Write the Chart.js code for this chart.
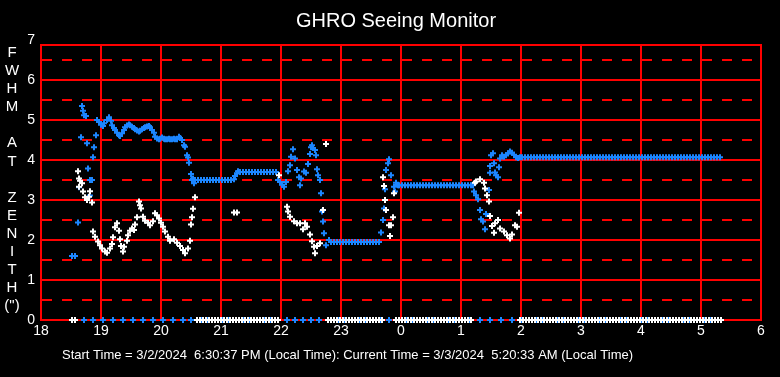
<!DOCTYPE html>
<html>
<head>
<meta charset="utf-8">
<script src="https://cdn.jsdelivr.net/npm/chart.js@4/dist/chart.umd.min.js"></script>
<style>
  html, body { margin: 0; padding: 0; background: #000; }
  canvas { display: block; }
</style>
</head>
<body>
<canvas id="seeing" width="780" height="377"></canvas>
<script>
// x values are minutes after 18:00 local time, y values are FWHM in arcsec
const hourLabels = ['18', '19', '20', '21', '22', '23', '0', '1', '2', '3', '4', '5', '6'];
const yTickValues = [0, 0.5, 1, 1.5, 2, 2.5, 3, 3.5, 4, 4.5, 5, 5.5, 6, 6.5, 7];
const axisLetters = ['F', 'W', 'H', 'M', '', 'A', 'T', '', 'Z', 'E', 'N', 'I', 'T', 'H', '(")'];
const chartTitle = 'GHRO Seeing Monitor';
const footerText = 'Start Time = 3/2/2024  6:30:37 PM (Local Time): Current Time = 3/3/2024  5:20:33 AM (Local Time)';

const whiteFwhm = [
  [31, 0], [34, 0],
  [37, 3.72], [38, 3.54], [38, 3.33], [39, 3.48], [41, 3.42], [42, 3.21], [44, 3.07], [46, 3.0],
  [48, 3.08], [49, 3.22], [51, 2.94], [52, 2.21], [54, 2.08], [57, 1.96], [59, 1.87], [61, 1.79],
  [64, 1.71], [66, 1.68], [69, 1.79], [71, 1.9], [72, 2.07], [74, 2.32], [76, 2.42], [78, 2.23],
  [79, 2.02], [80, 1.85], [82, 1.71], [83, 1.83], [86, 1.98], [87, 2.12], [89, 2.23], [91, 2.29],
  [93, 2.25], [94, 2.39], [96, 2.57], [98, 2.96], [99, 2.87], [100, 2.79], [102, 2.58], [104, 2.48],
  [107, 2.43], [109, 2.37], [112, 2.47], [114, 2.67], [116, 2.62], [118, 2.54], [120, 2.43], [122, 2.33],
  [124, 2.21], [127, 2.08], [129, 1.98], [133, 2.02], [136, 1.93], [139, 1.85], [142, 1.75], [144, 1.67],
  [147, 1.79], [149, 1.98], [150, 2.39], [151, 2.57], [152, 2.78], [154, 3.07],
  [156, 0], [159, 0], [162, 0], [165, 0], [168, 0], [171, 0], [174, 0], [177, 0], [180, 0], [183, 0],
  [186, 0], [189, 0], [192, 0], [195, 0], [198, 0], [201, 0], [204, 0], [207, 0], [210, 0], [213, 0],
  [216, 0], [219, 0], [222, 0], [225, 0], [228, 0], [231, 0], [234, 0], [237, 0],
  [193, 2.69], [196, 2.69], [238, 3.62],
  [246, 2.83], [247, 2.71], [249, 2.58], [253, 2.47], [256, 2.42], [259, 2.42], [262, 2.27], [264, 2.42],
  [266, 2.33], [269, 2.14], [271, 1.97], [273, 1.83], [274, 1.67], [276, 1.85], [279, 1.92], [282, 2.75],
  [285, 4.4],
  [287, 0], [290, 0], [293, 0], [296, 0], [299, 0], [302, 0], [305, 0], [308, 0], [311, 0], [314, 0],
  [317, 0], [320, 0], [323, 0], [326, 0], [329, 0], [332, 0], [335, 0], [338, 0], [341, 0],
  [342, 3.57], [343, 3.35], [344, 3.0], [345, 2.75], [348, 2.37], [349, 2.1], [350, 2.37], [352, 2.57],
  [353, 3.17],
  [355, 0], [358, 0], [361, 0], [364, 0], [367, 0], [370, 0], [373, 0], [376, 0], [379, 0], [382, 0],
  [385, 0], [388, 0], [391, 0], [394, 0], [397, 0], [400, 0], [403, 0], [406, 0], [409, 0], [412, 0],
  [415, 0], [418, 0], [421, 0], [424, 0], [427, 0], [430, 0],
  [434, 3.43], [435, 3.46], [439, 3.52], [443, 3.43], [444, 3.29], [446, 3.12], [448, 2.96], [449, 2.6],
  [451, 2.35], [453, 2.18], [454, 2.42], [457, 2.5], [459, 2.29], [463, 2.21], [466, 2.12], [469, 2.04],
  [471, 2.14], [474, 2.37], [476, 2.33], [478, 2.68],
  [479, 0], [482, 0], [485, 0], [488, 0], [491, 0], [494, 0], [497, 0], [500, 0], [503, 0], [506, 0],
  [509, 0], [512, 0], [515, 0], [518, 0], [521, 0], [524, 0], [527, 0], [530, 0], [533, 0], [536, 0],
  [539, 0], [542, 0], [545, 0], [548, 0], [551, 0], [554, 0], [557, 0], [560, 0], [563, 0], [566, 0],
  [569, 0], [572, 0], [575, 0], [578, 0], [581, 0], [584, 0], [587, 0], [590, 0], [593, 0], [596, 0],
  [599, 0], [602, 0], [605, 0], [608, 0], [611, 0], [614, 0], [617, 0], [620, 0], [623, 0], [626, 0],
  [629, 0], [632, 0], [635, 0], [638, 0], [641, 0], [644, 0], [647, 0], [650, 0], [653, 0], [656, 0],
  [659, 0], [662, 0], [665, 0], [668, 0], [671, 0], [674, 0], [677, 0], [680, 0]
];

const blueFwhm = [
  [31, 1.6], [34, 1.6], [31, 0], [34, 0],
  [37, 2.44], [38, 3.32], [40, 4.57], [41, 5.35], [42, 5.23], [43, 5.12], [45, 5.1], [46, 4.42],
  [47, 3.79], [49, 3.5], [49, 3.11], [51, 3.5], [52, 4.07], [53, 4.32], [55, 4.62],
  [56, 5.0], [58, 4.95], [60, 4.88], [62, 4.85], [63, 4.92], [66, 5.0], [68, 5.07], [70, 4.98],
  [71, 4.87], [73, 4.8], [74, 4.75], [76, 4.68], [78, 4.62], [79, 4.6], [81, 4.67], [83, 4.75],
  [84, 4.82], [86, 4.86], [88, 4.89], [89, 4.87], [91, 4.83], [93, 4.8], [94, 4.77], [96, 4.74],
  [98, 4.71], [99, 4.73], [101, 4.77], [103, 4.8], [104, 4.82], [106, 4.84], [108, 4.85], [109, 4.82],
  [111, 4.75], [113, 4.68], [114, 4.58], [116, 4.54], [118, 4.52], [119, 4.53], [121, 4.56], [123, 4.53],
  [124, 4.52], [126, 4.52], [128, 4.53], [129, 4.52], [131, 4.52], [133, 4.53], [134, 4.52], [136, 4.52],
  [138, 4.58], [139, 4.55], [141, 4.5], [143, 4.37], [144, 4.33], [146, 4.12], [147, 4.06], [148, 3.93],
  [150, 3.65], [152, 3.54], [153, 3.42],
  [151, 3.5], [154, 3.5], [157, 3.5], [160, 3.5], [163, 3.5], [166, 3.5], [169, 3.5], [172, 3.5],
  [175, 3.5], [178, 3.5], [181, 3.5], [184, 3.5], [187, 3.5], [190, 3.5], [193, 3.52],
  [194, 3.6], [196, 3.67], [197, 3.72],
  [199, 3.7], [202, 3.7], [205, 3.7], [208, 3.7], [211, 3.7], [214, 3.7], [217, 3.7], [220, 3.7],
  [223, 3.7], [226, 3.7], [229, 3.7], [232, 3.7], [235, 3.7],
  [237, 3.5], [239, 3.45], [241, 3.38], [243, 3.33], [245, 3.45],
  [247, 3.72], [249, 3.87], [250, 4.08], [252, 4.27], [254, 4.04], [256, 3.75], [258, 3.57], [259, 3.37],
  [260, 3.54], [263, 3.71], [265, 3.68], [267, 3.9], [269, 4.15], [270, 4.32], [271, 4.37], [272, 4.3],
  [274, 4.25], [275, 4.12], [276, 3.77], [277, 3.62], [279, 3.5], [280, 3.17], [281, 2.71], [282, 2.46],
  [283, 2.17], [285, 1.87], [288, 2.0],
  [290, 1.95], [293, 1.95], [296, 1.95], [299, 1.95], [302, 1.95], [305, 1.95], [308, 1.95], [311, 1.95],
  [314, 1.95], [317, 1.95], [320, 1.95], [323, 1.95], [326, 1.95], [329, 1.95], [332, 1.95], [335, 1.95],
  [338, 1.95],
  [340, 2.19], [342, 2.5], [343, 2.79], [344, 3.27], [345, 3.75], [347, 3.92], [348, 4.02], [350, 3.62],
  [353, 3.33], [354, 3.21], [355, 3.43], [357, 3.37],
  [358, 3.37], [361, 3.37], [364, 3.37], [367, 3.37], [370, 3.37], [373, 3.37], [376, 3.37], [379, 3.37],
  [382, 3.37], [385, 3.37], [388, 3.37], [391, 3.37], [394, 3.37], [397, 3.37], [400, 3.37], [403, 3.37],
  [406, 3.37], [409, 3.37], [412, 3.37], [415, 3.37], [418, 3.37], [421, 3.37], [424, 3.37], [427, 3.37],
  [430, 3.37], [432, 3.37],
  [433, 3.21], [435, 3.12], [437, 3.02], [439, 2.75], [440, 2.52], [442, 2.46], [444, 2.27], [445, 2.65],
  [448, 3.25], [449, 3.68], [449, 3.85], [450, 4.12], [452, 4.17], [453, 3.92], [454, 3.69], [455, 3.62],
  [457, 3.57], [458, 3.82], [459, 4.04], [461, 4.12], [463, 4.08], [465, 4.12], [467, 4.17], [469, 4.21],
  [471, 4.18], [473, 4.13], [475, 4.07], [477, 4.05], [479, 4.07],
  [481, 4.07], [484, 4.07], [487, 4.07], [490, 4.07], [493, 4.07], [496, 4.07], [499, 4.07], [502, 4.07],
  [505, 4.07], [508, 4.07], [511, 4.07], [514, 4.07], [517, 4.07], [520, 4.07], [523, 4.07], [526, 4.07],
  [529, 4.07], [532, 4.07], [535, 4.07], [538, 4.07], [541, 4.07], [544, 4.07], [547, 4.07], [550, 4.07],
  [553, 4.07], [556, 4.07], [559, 4.07], [562, 4.07], [565, 4.07], [568, 4.07], [571, 4.07], [574, 4.07],
  [577, 4.07], [580, 4.07], [583, 4.07], [586, 4.07], [589, 4.07], [592, 4.07], [595, 4.07], [598, 4.07],
  [601, 4.07], [604, 4.07], [607, 4.07], [610, 4.07], [613, 4.07], [616, 4.07], [619, 4.07], [622, 4.07],
  [625, 4.07], [628, 4.07], [631, 4.07], [634, 4.07], [637, 4.07], [640, 4.07], [643, 4.07], [646, 4.07],
  [649, 4.07], [652, 4.07], [655, 4.07], [658, 4.07], [661, 4.07], [664, 4.07], [667, 4.07], [670, 4.07],
  [673, 4.07], [676, 4.07], [679, 4.07],
  // zero readings along the bottom
  [43, 0], [52, 0], [62, 0], [72, 0], [82, 0], [92, 0], [102, 0], [112, 0], [122, 0], [132, 0],
  [142, 0], [150, 0], [160, 0], [167, 0], [174, 0], [181, 0], [188, 0], [195, 0], [202, 0], [209, 0],
  [216, 0], [223, 0], [230, 0], [237, 0], [246, 0], [254, 0], [262, 0], [270, 0], [278, 0], [290, 0],
  [297, 0], [304, 0], [311, 0], [318, 0], [325, 0], [332, 0], [339, 0], [348, 0], [358, 0], [365, 0],
  [372, 0], [379, 0], [386, 0], [393, 0], [400, 0], [407, 0], [414, 0], [421, 0], [428, 0], [439, 0],
  [449, 0], [460, 0], [471, 0], [481, 0], [488, 0], [495, 0], [502, 0], [509, 0], [516, 0], [523, 0],
  [530, 0], [537, 0], [544, 0], [551, 0], [558, 0], [565, 0], [572, 0], [579, 0], [586, 0], [593, 0],
  [600, 0], [607, 0], [614, 0], [621, 0], [628, 0], [635, 0], [642, 0], [649, 0], [656, 0], [663, 0],
  [670, 0], [677, 0]
];

const toXY = pts => pts.map(p => ({ x: p[0], y: p[1] }));

// black page, red plot frame, title, footer and stacked axis title
const decorations = {
  id: "decorations",
  beforeDraw(chart) {
    const ctx = chart.ctx;
    ctx.save();
    ctx.fillStyle = "#000";
    ctx.fillRect(0, 0, chart.width, chart.height);
    ctx.restore();
  },
  beforeDatasetsDraw(chart) {
    const { ctx, chartArea } = chart;
    ctx.save();
    ctx.strokeStyle = "#ff0000";
    ctx.lineWidth = 2;
    ctx.strokeRect(chartArea.left, chartArea.top, chartArea.right - chartArea.left, chartArea.bottom - chartArea.top);
    ctx.restore();
  },
  afterDraw(chart) {
    const ctx = chart.ctx;
    ctx.save();
    ctx.fillStyle = "#ffffff";
    ctx.textBaseline = "middle";
    ctx.textAlign = "center";
    ctx.font = "20px 'Liberation Sans', Arial, sans-serif";
    ctx.fillText(chartTitle, 396, 21);
    ctx.font = "15px 'Liberation Sans', Arial, sans-serif";
    axisLetters.forEach((ch, i) => {
      if (ch) ctx.fillText(ch, 12, 53 + i * 18.07);
    });
    ctx.textAlign = "left";
    ctx.font = "13px 'Liberation Sans', Arial, sans-serif";
    ctx.fillText(footerText, 62, 355);
    ctx.restore();
  },
};

document.addEventListener("DOMContentLoaded", function () {
  const canvas = document.getElementById("seeing");
  const ctx = canvas.getContext("2d");

  new Chart(ctx, {
    type: "scatter",
    data: {
      datasets: [
        {
          label: "white",
          data: toXY(whiteFwhm),
          pointStyle: "cross",
          pointRadius: 3,
          borderColor: "#ffffff",
          backgroundColor: "#ffffff",
          borderWidth: 2,
          clip: false,
        },
        {
          label: "blue",
          data: toXY(blueFwhm),
          pointStyle: "cross",
          pointRadius: 3,
          borderColor: "#1c86ff",
          backgroundColor: "#1c86ff",
          borderWidth: 2,
          clip: false,
        },
      ],
    },
    options: {
      responsive: false,
      animation: false,
      layout: { padding: { top: 45, right: 19, bottom: 0, left: 0 } },
      plugins: {
        legend: { display: false },
        tooltip: { enabled: false },
        title: { display: false },
      },
      scales: {
        x: {
          type: "linear",
          min: 0,
          max: 720,
          afterFit: (axis) => { axis.height = 57; },
          afterBuildTicks: (axis) => {
            axis.ticks = hourLabels.map((l, i) => ({ value: i * 60 }));
          },
          ticks: {
            autoSkip: false,
            maxRotation: 0,
            padding: 3,
            color: "#ffffff",
            font: { family: "'Liberation Sans', Arial, sans-serif", size: 14 },
            callback: (v, i) => hourLabels[i],
          },
          grid: { color: "#ff0000", lineWidth: 2, drawTicks: false },
          border: { color: "#ff0000", width: 2 },
        },
        y: {
          type: "linear",
          min: 0,
          max: 6.875,
          afterFit: (axis) => { axis.width = 41; },
          afterBuildTicks: (axis) => {
            axis.ticks = yTickValues.map((v) => ({ value: v }));
          },
          ticks: {
            autoSkip: false,
            padding: 6,
            color: "#ffffff",
            font: { family: "'Liberation Sans', Arial, sans-serif", size: 14 },
            callback: (v) => (Number.isInteger(v) ? String(v) : ""),
          },
          grid: {
            drawTicks: false,
            lineWidth: 2,
            color: (c) => (c.tick && c.tick.value > 6.9 ? "rgba(0,0,0,0)" : "#ff0000"),
          },
          border: {
            color: "#ff0000",
            width: 2,
            dash: (c) => (c.tick && !Number.isInteger(c.tick.value) ? [10, 10] : []),
          },
        },
      },
    },
    plugins: [decorations],
  });
});
</script>
</body>
</html>
